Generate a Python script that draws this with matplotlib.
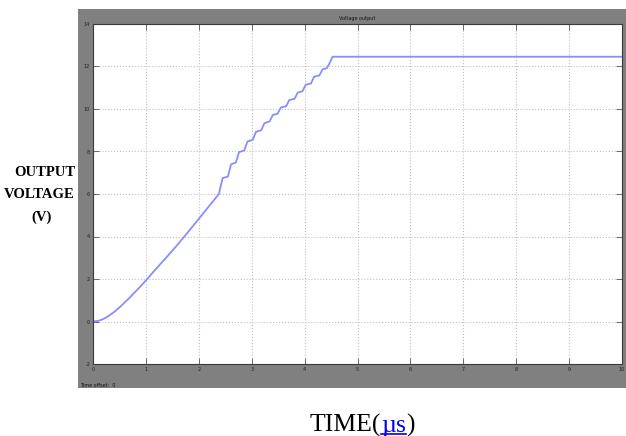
import numpy as np
import matplotlib.pyplot as plt
from matplotlib.patches import Rectangle
from matplotlib.lines import Line2D

# time (us) and output voltage (V)
time_us = [0.0, 0.1, 0.2, 0.3, 0.4, 0.5, 0.6, 0.7, 0.8, 0.9, 1.0, 1.2, 1.4, 1.6,
           1.8, 2.0, 2.2, 2.38,
           2.45, 2.55, 2.61, 2.70, 2.76, 2.86, 2.92, 3.02, 3.08, 3.18, 3.24,
           3.34, 3.40, 3.49, 3.55, 3.65, 3.71, 3.81, 3.87, 3.96, 4.02, 4.12,
           4.18, 4.28, 4.34, 4.42, 4.46, 4.53, 10.0]
voltage = [0.0, 0.03, 0.12, 0.27, 0.45, 0.66, 0.90, 1.14, 1.40, 1.66, 1.93, 2.50,
           3.05, 3.62, 4.22, 4.83, 5.45, 6.0,
           6.75, 6.82, 7.40, 7.48, 7.97, 8.05, 8.47, 8.55, 8.92, 9.00, 9.33,
           9.42, 9.72, 9.78, 10.07, 10.13, 10.42, 10.48, 10.77, 10.84, 11.14,
           11.20, 11.52, 11.58, 11.87, 11.92, 12.10, 12.46, 12.46]

x_ticks = [0, 1, 2, 3, 4, 5, 6, 7, 8, 9, 10]
y_ticks = [-2, 0, 2, 4, 6, 8, 10, 12, 14]

W, H = 626, 436
fig = plt.figure(figsize=(W / 100, H / 100), dpi=100)

# grey scope window
fig.patches.append(Rectangle((78 / W, 1 - 388 / H), 1 - 78 / W, 379 / H,
                             transform=fig.transFigure, facecolor='#808080',
                             edgecolor='none', zorder=-5))

ax = fig.add_axes([93 / W, 1 - 364 / H, (622 - 93) / W, (364 - 24) / H])
ax.set_facecolor('white')
ax.plot(time_us, voltage, color='#8c8cff', lw=1.3)
ax.set_xlim(0, 10)
ax.set_ylim(-2, 14)
ax.set_xticks(x_ticks)
ax.set_yticks(y_ticks)
ax.set_xticklabels([str(v) for v in x_ticks], fontsize=3.5, color='#202020')
ax.set_yticklabels([str(v) for v in y_ticks], fontsize=3.5, color='#202020')
ax.tick_params(direction='in', top=True, right=True, length=4, width=0.6,
               color='#555555', pad=2)
ax.grid(True, linestyle=':', color='#c0c0c0', lw=0.8)
for s in ax.spines.values():
    s.set_color('#3a3a3a')
    s.set_linewidth(0.8)
ax.set_title('Voltage output', fontsize=3.5, pad=3, color='#101010')

fig.text(80 / W, 1 - 385 / H, 'Time offset:  0', fontsize=3.5, color='#101010',
         ha='left', va='center')

# outside labels
serif = 'Liberation Serif'
fig.text(75 / W, 1 - 173 / H, 'OUTPUT', fontsize=10.5, fontweight='bold',
         family=serif, ha='right', va='center')
fig.text(75 / W, 1 - 194 / H, 'VOLTAGE', fontsize=10.5, fontweight='bold',
         family=serif, ha='right', va='center')
fig.text(42 / W, 1 - 217 / H, '(V)', fontsize=10.5, fontweight='bold',
         family=serif, ha='center', va='center')

t1 = fig.text(310 / W, 1 - 432 / H, 'TIME(', fontsize=18.5, family=serif,
              ha='left', va='baseline')
t2 = ax.annotate('\u00b5s', xy=(1, 0), xycoords=t1, fontsize=18.5, family=serif,
                 color='#0000ee', ha='left', va='bottom')
t3 = ax.annotate(')', xy=(1, 0), xycoords=t2, fontsize=18.5, family=serif,
                 ha='left', va='bottom')
fig.canvas.draw()
bb = t2.get_window_extent()
uy = 1 - 434 / H
fig.lines.append(Line2D([bb.x0 / W, bb.x1 / W], [uy, uy], transform=fig.transFigure,
                        color='#0000ee', lw=1.2))

fig.savefig('out.png', dpi=100)
